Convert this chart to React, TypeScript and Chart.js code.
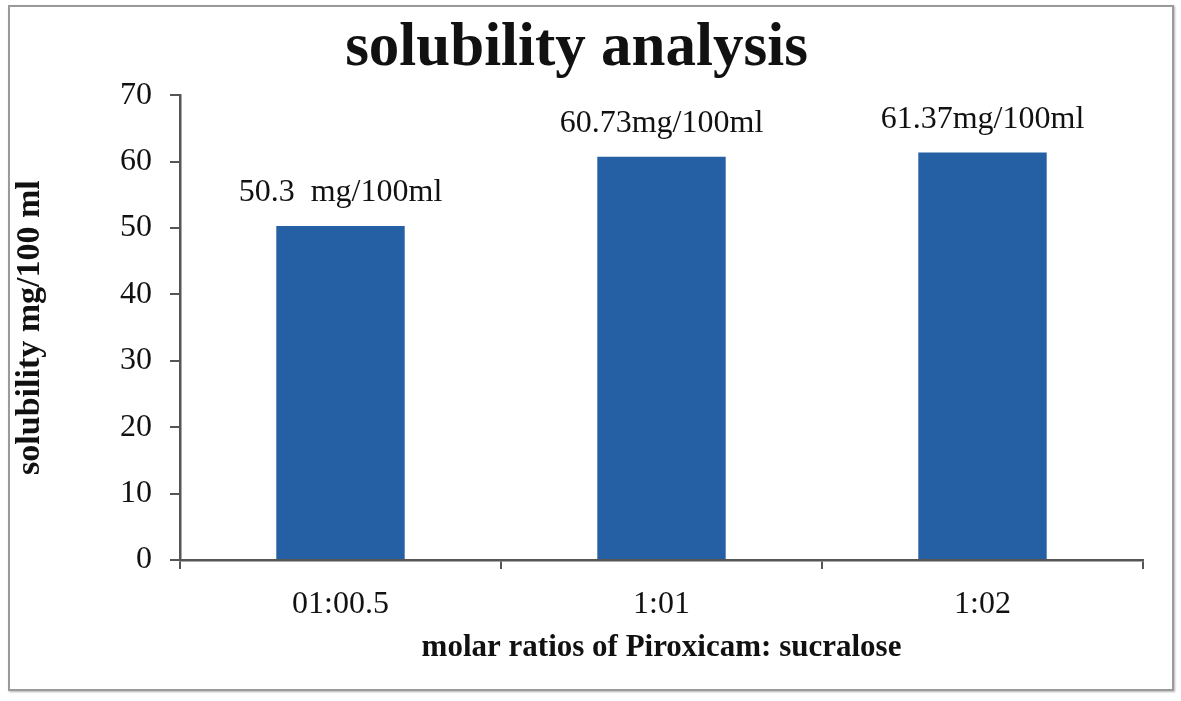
import React, { useEffect, useRef } from "react";
import { Chart, registerables } from "chart.js";

Chart.register(...registerables);

const categories = ["01:00.5", "1:01", "1:02"];
const solubility = [50.3, 60.73, 61.37];
const valueLabels = ["50.3  mg/100ml", "60.73mg/100ml", "61.37mg/100ml"];
const yTicks = [0, 10, 20, 30, 40, 50, 60, 70];

const SERIF = "'Liberation Serif', 'Times New Roman', serif";

const valueLabelPlugin = {
  id: "valueLabels",
  afterDatasetsDraw(chart: any) {
    const ctx = chart.ctx;
    const meta = chart.getDatasetMeta(0);
    ctx.save();
    ctx.font = `32px ${SERIF}`;
    ctx.fillStyle = "#111";
    ctx.textAlign = "center";
    ctx.textBaseline = "middle";
    meta.data.forEach((bar: any, i: number) => {
      ctx.fillText(valueLabels[i], bar.x, bar.y - 33);
    });
    ctx.restore();
  },
};

export default function App() {
  const ref = useRef<HTMLCanvasElement | null>(null);
  useEffect(() => {
    if (!ref.current) return;
    const chart = new Chart(ref.current, {
      type: "bar",
      data: {
        labels: categories,
        datasets: [
          {
            data: solubility,
            backgroundColor: "#2660A4",
            borderWidth: 0,
            categoryPercentage: 1,
            barPercentage: 0.4,
          },
        ],
      },
      options: {
        responsive: false,
        animation: false,
        devicePixelRatio: 1,
        layout: { padding: { left: 0, right: 29, top: 0, bottom: 0 } },
        plugins: {
          legend: { display: false },
          tooltip: { enabled: false },
          title: {
            display: true,
            text: "solubility analysis",
            color: "#111",
            font: { family: SERIF, size: 61, weight: "bold", lineHeight: 1.2 },
            padding: { top: 6, bottom: 9 },
          },
        },
        scales: {
          x: {
            afterFit: (s: any) => {
              s.height = 129;
            },
            grid: {
              offset: true,
              drawOnChartArea: false,
              drawTicks: true,
              tickLength: 9,
              color: "#555",
              lineWidth: 2,
            },
            border: { display: true, color: "#555", width: 2.5 },
            ticks: {
              color: "#111",
              font: { family: SERIF, size: 32 },
              padding: 16,
            },
            title: {
              display: true,
              text: "molar ratios of Piroxicam: sucralose",
              color: "#111",
              font: { family: SERIF, size: 31, weight: "bold", lineHeight: 1.2 },
              padding: { top: 0, bottom: 22 },
            },
          },
          y: {
            min: 0,
            max: 70,
            afterFit: (s: any) => {
              s.width = 170;
            },
            afterBuildTicks: (s: any) => {
              s.ticks = yTicks.map((v) => ({ value: v }));
            },
            grid: {
              drawOnChartArea: false,
              drawTicks: true,
              tickLength: 10,
              color: "#555",
              lineWidth: 2,
            },
            border: { display: true, color: "#555", width: 2.5 },
            ticks: {
              color: "#111",
              font: { family: SERIF, size: 32 },
              padding: 18,
            },
            title: {
              display: true,
              text: "solubility mg/100 ml",
              color: "#111",
              font: { family: SERIF, size: 34, weight: "bold", lineHeight: 1.2 },
              padding: { top: 0, bottom: 0 },
            },
          },
        },
      },
      plugins: [valueLabelPlugin],
    } as any);
    return () => chart.destroy();
  }, []);

  return (
    <div
      style={{
        position: "absolute",
        left: 8,
        top: 5,
        width: 1162,
        height: 682,
        border: "2px solid #9a9a9a",
        boxShadow: "1px 1px 2px rgba(0,0,0,0.3)",
        background: "#fff",
      }}
    >
      <canvas ref={ref} width={1162} height={682} style={{ display: "block" }} />
    </div>
  );
}
